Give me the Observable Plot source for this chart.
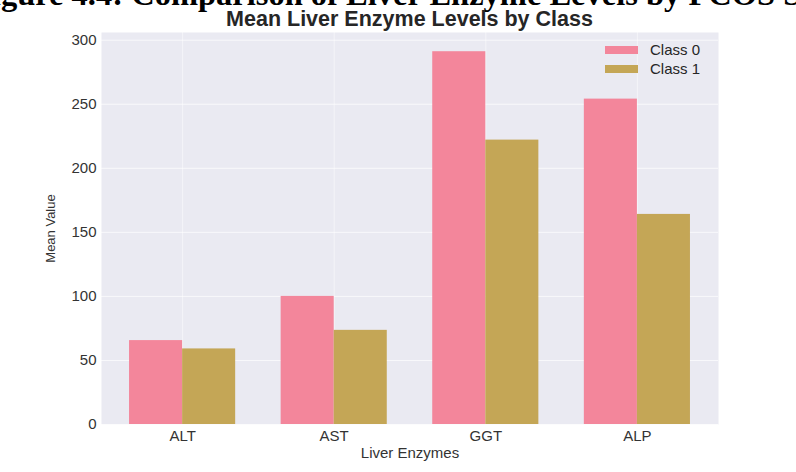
<!DOCTYPE html>
<html>
<head>
<meta charset="utf-8">
<script src="https://cdn.jsdelivr.net/npm/d3@7"></script>
<script src="https://cdn.jsdelivr.net/npm/@observablehq/plot@0.6"></script>
<style>
  html, body { margin: 0; padding: 0; background: #fff; }
  #wrap { position: relative; width: 796px; height: 472px; overflow: hidden; font-family: "Liberation Sans", Arial, sans-serif; }
  #caption { position: absolute; left: -28px; top: -22px; font-family: "Liberation Serif", "Times New Roman", serif; font-weight: bold; font-size: 32.5px; line-height: 1; white-space: nowrap; color: #000; }
  #title { position: absolute; left: 101px; width: 617px; top: 9px; text-align: center; font-weight: bold; font-size: 21.5px; line-height: 1; color: #262626; white-space: nowrap; }
  #chart { position: absolute; left: 0; top: 0; }
  #legend { position: absolute; left: 605px; top: 40px; font-size: 15px; color: #262626; }
  .row { display: flex; align-items: center; height: 19px; }
  .sw { width: 33px; height: 8px; margin-right: 12px; }
</style>
</head>
<body>
<div id="wrap">
  <div id="chart"></div>
  <div id="caption">Figure 4.4: Comparison of Liver Enzyme Levels by PCOS Status</div>
  <div id="title">Mean Liver Enzyme Levels by Class</div>
  <div id="legend"></div>
</div>
<script>
const enzymes = ["ALT", "AST", "GGT", "ALP"];
const classes = ["Class 0", "Class 1"];
const class0 = [65.5, 100, 291, 254];
const class1 = [59, 73.5, 222, 164];
const colors = ["#f3869b", "#c4a656"];
const yTicks = [0, 50, 100, 150, 200, 250, 300];

const barWidth = 0.35;
const data = [];
enzymes.forEach((e, i) => {
  data.push({i, c: 0, enzyme: e, cls: classes[0], value: class0[i]});
  data.push({i, c: 1, enzyme: e, cls: classes[1], value: class1[i]});
});
const xTicks = enzymes.map((e, i) => i);

const chart = Plot.plot({
  width: 796,
  height: 472,
  marginTop: 32,
  marginBottom: 48,
  marginLeft: 101,
  marginRight: 78,
  style: {fontFamily: '"Liberation Sans", Arial, sans-serif', fontSize: "15px", color: "#333", background: "transparent"},
  x: {domain: [-0.535, 3.535], label: null},
  y: {domain: [0, 306], label: null},
  color: {domain: classes, range: colors},
  marks: [
    Plot.frame({fill: "#eaeaf2", stroke: null}),
    Plot.gridY(yTicks, {stroke: "#ffffff", strokeOpacity: 0.7, strokeWidth: 1}),
    Plot.gridX(xTicks, {stroke: "#ffffff", strokeOpacity: 0.5, strokeWidth: 1}),
    Plot.rectY(data, {
      x1: d => d.i + (d.c - 1) * barWidth,
      x2: d => d.i + d.c * barWidth,
      y: "value",
      fill: "cls"
    }),
    Plot.axisY(yTicks, {tickSize: 0, tickPadding: 5, fontSize: 15, label: null}),
    Plot.axisY({ticks: [], tickSize: 0, fontSize: 13, label: "Mean Value", labelAnchor: "center", labelArrow: "none", labelOffset: 56}),
    Plot.axisX(xTicks, {tickSize: 0, tickPadding: 6, fontSize: 15, tickFormat: i => enzymes[i], label: "Liver Enzymes", labelAnchor: "center", labelArrow: "none", labelOffset: 33})
  ]
});
document.getElementById("chart").appendChild(chart);

const legend = document.getElementById("legend");
classes.forEach((c, i) => {
  const row = document.createElement("div");
  row.className = "row";
  const sw = document.createElement("div");
  sw.className = "sw";
  sw.style.background = colors[i];
  const t = document.createElement("span");
  t.textContent = c;
  row.appendChild(sw);
  row.appendChild(t);
  legend.appendChild(row);
});
</script>
</body>
</html>
